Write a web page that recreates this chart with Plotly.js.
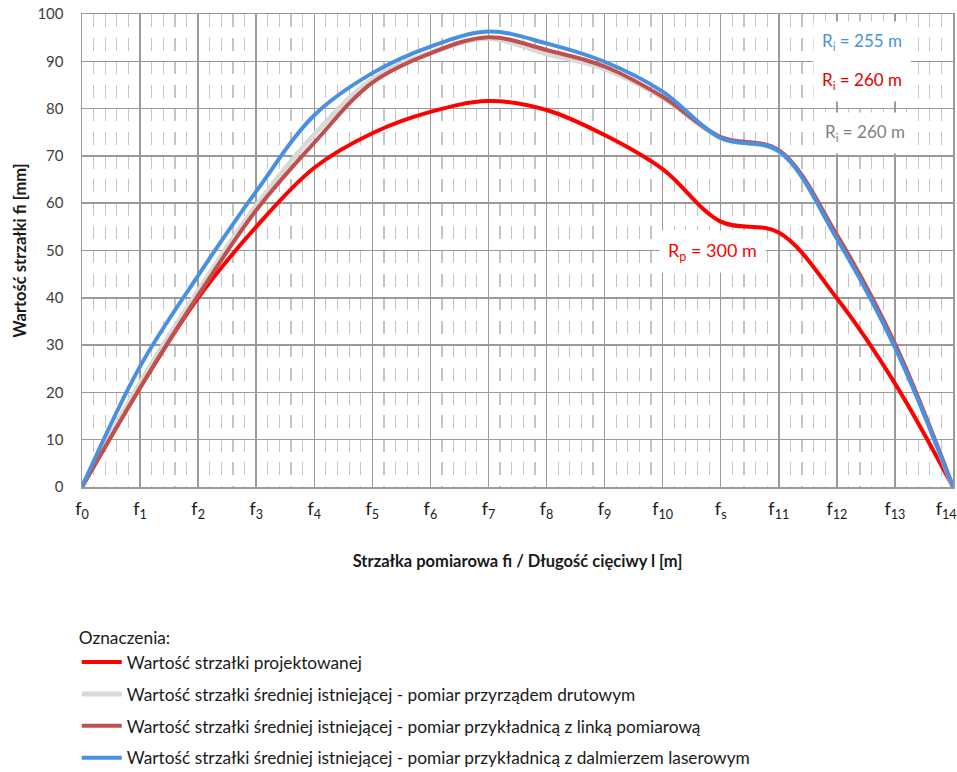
<!DOCTYPE html>
<html><head><meta charset="utf-8">
<script src="https://cdn.plot.ly/plotly-3.0.1.min.js"></script>
<style>html,body{margin:0;padding:0;background:#fff}#chart{width:957px;height:772px}</style>
</head><body><div id="chart"></div>
<script>
const categories = ['f<sub>0</sub>','f<sub>1</sub>','f<sub>2</sub>','f<sub>3</sub>','f<sub>4</sub>','f<sub>5</sub>','f<sub>6</sub>','f<sub>7</sub>','f<sub>8</sub>','f<sub>9</sub>','f<sub>10</sub>','f<sub>s</sub>','f<sub>11</sub>','f<sub>12</sub>','f<sub>13</sub>','f<sub>14</sub>'];
const projected = [0, 21, 40, 55, 67.5, 74.8, 79.3, 81.6, 79.7, 74.4, 67.2, 56.1, 53.8, 39.9, 21.9, 0];
const wire      = [0, 22, 41.5, 59.5, 74.5, 86.2, 91.8, 94.8, 91.6, 88.4, 82.3, 73.8, 71, 53, 30, 0];
const lineRuler = [0, 21, 40.5, 58.5, 72.8, 85.5, 91.7, 95.1, 92.4, 88.9, 82.5, 74, 71.2, 53.3, 30.3, 0];
const laser     = [0, 25.5, 44.7, 62.5, 78.6, 87.5, 93.1, 96.3, 93.8, 89.9, 83.6, 73.8, 71, 52.5, 29.5, 0];
const seriesNames = [
  'Wartość strzałki projektowanej',
  'Wartość strzałki średniej istniejącej - pomiar przyrządem drutowym',
  'Wartość strzałki średniej istniejącej - pomiar przykładnicą z linką pomiarową',
  'Wartość strzałki średniej istniejącej - pomiar przykładnicą z dalmierzem laserowym'
];
const radiusLabels = ['R<sub>i</sub> = 255 m','R<sub>i</sub> = 260 m','R<sub>i</sub> = 260 m','R<sub>p</sub> = 300 m'];

const xs = categories.map((_, i) => i);
// the last label sits against the right edge; pad it so it is nudged inwards like the original
const tickText = categories.map((c, i) => i === categories.length - 1 ? c + '&nbsp;&nbsp;&nbsp;' : c);
const FONT = 'Lato, "Open Sans", sans-serif';
const colors = ['#ff0000', '#d9d9d9', '#c0504d', '#4a90e2'];
const data = [projected, wire, lineRuler, laser].map((ys, k) => ({
  type: 'scatter', mode: 'lines', x: xs, y: ys, name: seriesNames[k],
  legendgroup: 'g' + k,
  line: {color: colors[k], width: k === 1 ? 5 : 4, shape: 'spline', smoothing: 1},
  hoverinfo: 'skip'
}));

const layout = {
  width: 957, height: 772,
  margin: {l: 82, r: 4, t: 14, b: 285, autoexpand: false},
  paper_bgcolor: '#fff', plot_bgcolor: '#fff',
  font: {family: FONT, color: '#404040'},
  showlegend: true,
  legend: {
    x: -0.006, xanchor: 'left', y: -0.285, yanchor: 'top',
    orientation: 'v', tracegroupgap: 6.4,
    font: {family: FONT, size: 17.3, color: '#1a1a1a'},
    title: {text: 'Oznaczenia:', font: {family: FONT, size: 17.3, color: '#1a1a1a'}, side: 'top'},
    itemwidth: 40
  },
  xaxis: {
    range: [0, 15], tickvals: xs, ticktext: tickText,
    tickfont: {family: FONT, size: 18, color: '#1a1a1a'},
    ticklabeloverflow: 'allow',
    showgrid: true, gridcolor: '#9a9a9a', gridwidth: 1.5,
    showline: true, linecolor: '#9a9a9a', linewidth: 1.5, mirror: true,
    zeroline: false, ticks: '', ticklabelstandoff: 5,
    minor: {dtick: 0.2, tick0: 0, showgrid: true, gridcolor: '#c4c4c4', gridwidth: 1.2, griddash: '13px,10.6px'},
    title: {text: '<b>Strzałka pomiarowa fi / Długość cięciwy l [m]</b>', font: {family: FONT, size: 16.5, color: '#1a1a1a'}, standoff: 34}
  },
  yaxis: {
    range: [0, 100], dtick: 10, tick0: 0,
    tickfont: {family: FONT, size: 15, color: '#404040'},
    showgrid: true, gridcolor: '#9a9a9a', gridwidth: 1.5,
    showline: true, linecolor: '#9a9a9a', linewidth: 1.5, mirror: true,
    zeroline: false, ticks: '', ticklabelstandoff: 14,
    title: {text: '<b>Wartość strzałki fi [mm]</b>', font: {family: FONT, size: 16.5, color: '#1a1a1a'}, standoff: 6}
  },
  annotations: [
    {x: 13.43, y: 94.1, text: radiusLabels[0], color: '#4a90e2', size: 17},
    {x: 13.43, y: 85.8, text: radiusLabels[1], color: '#e00000', size: 17},
    {x: 13.48, y: 74.8, text: radiusLabels[2], color: '#7f7f7f', size: 17},
    {x: 10.85, y: 49.7, text: radiusLabels[3], color: '#ff0000', size: 18}
  ].map(a => ({
    x: a.x, y: a.y, xref: 'x', yref: 'y', text: a.text, showarrow: false,
    font: {family: FONT, size: a.size, color: a.color},
    bgcolor: '#ffffff', borderpad: 8
  }))
};

Plotly.newPlot('chart', data, layout, {staticPlot: true});
</script></body></html>
